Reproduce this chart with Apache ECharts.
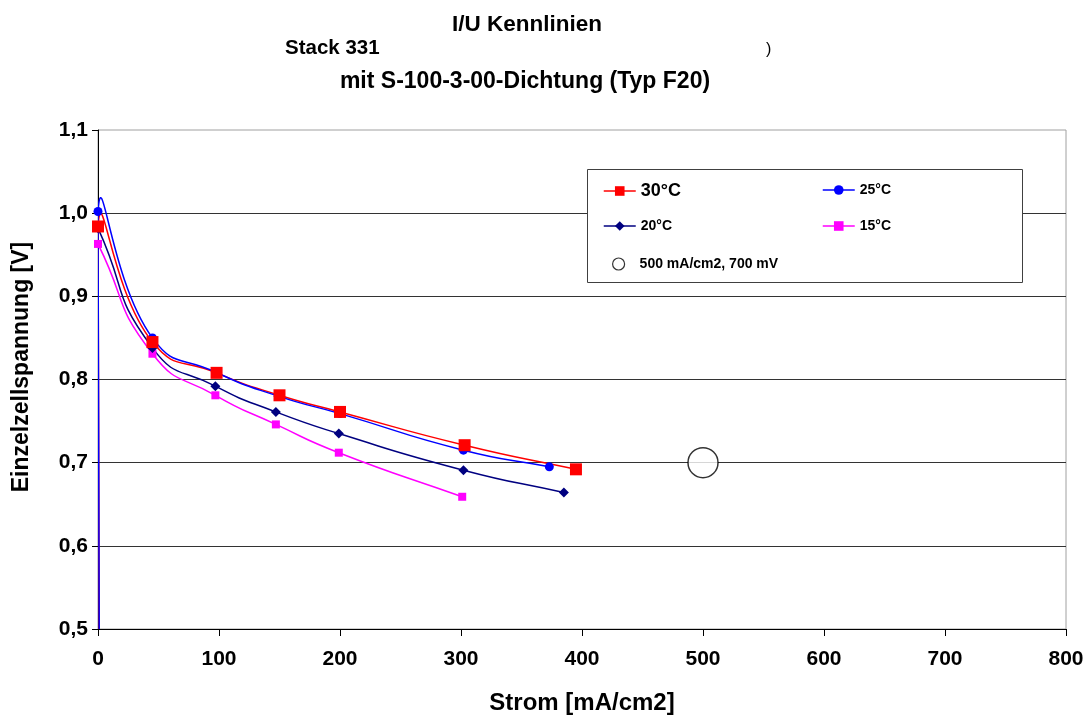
<!DOCTYPE html>
<html>
<head>
<meta charset="utf-8">
<script src="https://cdn.jsdelivr.net/npm/echarts@6/dist/echarts.min.js"></script>
<style>html,body{margin:0;padding:0;background:#fff;}#c{width:1086px;height:715px;}</style>
</head>
<body>
<div id="c"></div>
<script>
// ---- data ----
const seriesNames = ['30°C', '25°C', '20°C', '15°C'];
const xTicks = [0, 100, 200, 300, 400, 500, 600, 700, 800];
const yTicks = ['0,5', '0,6', '0,7', '0,8', '0,9', '1,0', '1,1'];
// [current mA/cm2, voltage V]; 30°C and 25°C start with an open-circuit point at ~0 V (off-scale)
const s30 = [[2, 0.0], [0, 0.984], [45, 0.845], [98, 0.808], [150, 0.781], [200, 0.761], [303, 0.721], [395, 0.692]];
const s25 = [[2, 0.0], [0, 1.002], [45, 0.850], [97, 0.809], [149, 0.780], [200, 0.759], [302, 0.715], [373, 0.695]];
const s20 = [[0, 0.982], [45, 0.838], [97, 0.792], [147, 0.761], [199, 0.735], [302, 0.691], [385, 0.664]];
const s15 = [[0, 0.963], [45, 0.831], [97, 0.781], [147, 0.746], [199, 0.712], [301, 0.659]];
const hasDrop = [true, true, false, false];
const target = [[500, 0.700]];
const targetName = '500 mA/cm2, 700 mV';

const FONT = 'Liberation Sans, Arial, sans-serif';
const chart = echarts.init(document.getElementById('c'));

const colors = ['#FF0000', '#0000FF', '#000080', '#FF00FF'];
const symbols = ['rect', 'circle', 'diamond', 'rect'];
const sizes = [12, 9, 10, 8];
const allData = [s30, s25, s20, s15];
const SMOOTH = 0.55;

// spline path (Excel-like smoothed line) through the points, using the chart's own coordinate mapping
function splineRender(data, color, drop) {
  return function (params, api) {
    if (params.dataIndex !== 0) return null;
    const P = data.map(d => api.coord(d));
    const n = P.length;
    const dist = (a, b) => Math.hypot(a[0] - b[0], a[1] - b[1]);
    const cpF = [], cpB = [];
    for (let i = 0; i < n; i++) {
      const prev = P[i > 0 ? i - 1 : i];
      const next = P[i < n - 1 ? i + 1 : i];
      const vx = next[0] - prev[0], vy = next[1] - prev[1];
      const d0 = dist(prev, P[i]), d1 = dist(P[i], next);
      const tot = d0 + d1 || 1;
      cpF.push([P[i][0] + vx * SMOOTH * d1 / tot, P[i][1] + vy * SMOOTH * d1 / tot]);
      cpB.push([P[i][0] - vx * SMOOTH * d0 / tot, P[i][1] - vy * SMOOTH * d0 / tot]);
    }
    let path = 'M' + P[0][0] + ' ' + P[0][1];
    for (let i = 1; i < n; i++) {
      if (drop && i === 1) {
        path += ' L' + P[1][0] + ' ' + P[1][1];
      } else {
        path += ' C' + cpF[i - 1][0] + ' ' + cpF[i - 1][1] + ' ' + cpB[i][0] + ' ' + cpB[i][1] + ' ' + P[i][0] + ' ' + P[i][1];
      }
    }
    return {
      type: 'path',
      shape: { pathData: path },
      style: { fill: null, stroke: color, lineWidth: 1.5 }
    };
  };
}

const series = [];
seriesNames.forEach((n, i) => {
  series.push({
    name: n + ' ',
    type: 'custom',
    renderItem: splineRender(allData[i], colors[i], hasDrop[i]),
    data: allData[i],
    clip: true,
    silent: true,
    z: 2
  });
});
seriesNames.forEach((n, i) => {
  const d = allData[i].map((p, k) => (hasDrop[i] && k === 0) ? { value: p, symbol: 'none' } : { value: p });
  series.push({
    name: n,
    type: 'line',
    data: d,
    symbol: symbols[i],
    symbolSize: sizes[i],
    showAllSymbol: true,
    lineStyle: { color: colors[i], width: 1.5, opacity: 0 },
    itemStyle: { color: colors[i] },
    z: 6 - i,
    clip: true
  });
});
series.push({
  name: targetName,
  type: 'scatter',
  data: target,
  symbol: 'circle',
  symbolSize: 30,
  itemStyle: { color: '#fff', borderColor: '#000', borderWidth: 1.5 },
  z: 7
});

const legendPos = [
  { left: 603, top: 182, fs: 18 },
  { left: 822, top: 183, fs: 14 },
  { left: 603, top: 219, fs: 14 },
  { left: 822, top: 219, fs: 14 }
];
const legends = seriesNames.map((n, i) => ({
  data: [n],
  left: legendPos[i].left,
  top: legendPos[i].top,
  padding: 0,
  itemWidth: 32,
  itemHeight: 12,
  itemGap: 0,
  selectedMode: false,
  z: 20,
  lineStyle: { opacity: 1, width: 1.5 },
  textStyle: { fontFamily: FONT, fontWeight: 'bold', fontSize: legendPos[i].fs, color: '#000' }
}));
legends.push({
  data: [targetName],
  left: 612,
  top: 257,
  padding: 0,
  itemWidth: 12,
  itemHeight: 12,
  selectedMode: false,
  z: 20,
  itemStyle: { color: '#fff', borderColor: '#000', borderWidth: 1.2 },
  textStyle: { fontFamily: FONT, fontWeight: 'bold', fontSize: 14, color: '#000', padding: [0, 0, 0, 10] }
});

chart.setOption({
  animation: false,
  backgroundColor: '#fff',
  title: [
    { text: 'I/U Kennlinien', left: 527, top: 13, textAlign: 'center', padding: 0,
      textStyle: { fontFamily: FONT, fontWeight: 'bold', fontSize: 22.5, color: '#000' } },
    { text: 'Stack 331', left: 285, top: 38, padding: 0,
      textStyle: { fontFamily: FONT, fontWeight: 'bold', fontSize: 20.5, color: '#000' } },
    { text: ')', left: 766, top: 42, padding: 0,
      textStyle: { fontFamily: FONT, fontWeight: 'normal', fontSize: 16, color: '#000' } },
    { text: 'mit S-100-3-00-Dichtung (Typ F20)', left: 525, top: 70, textAlign: 'center', padding: 0,
      textStyle: { fontFamily: FONT, fontWeight: 'bold', fontSize: 23, color: '#000' } }
  ],
  grid: { left: 98, right: 20, top: 130, bottom: 86, show: true, borderColor: '#a0a0a0', borderWidth: 1,
    backgroundColor: 'transparent', outerBoundsMode: 'none', containLabel: false },
  legend: legends,
  xAxis: {
    type: 'value', min: 0, max: 800, interval: 100,
    name: 'Strom [mA/cm2]', nameLocation: 'middle', nameGap: 62,
    nameTextStyle: { fontFamily: FONT, fontWeight: 'bold', fontSize: 24, color: '#000' },
    axisLine: { show: true, lineStyle: { color: '#000', width: 1 } },
    axisTick: { show: true, length: 7, lineStyle: { color: '#000' } },
    axisLabel: { margin: 20, fontFamily: FONT, fontWeight: 'bold', fontSize: 21, color: '#000',
      formatter: v => xTicks.includes(v) ? String(v) : '' },
    splitLine: { show: false }
  },
  yAxis: {
    type: 'value', min: 0.5, max: 1.1, interval: 0.1,
    axisLine: { show: true, lineStyle: { color: '#000', width: 1 } },
    axisTick: { show: true, length: 6, lineStyle: { color: '#000' } },
    axisLabel: { margin: 10, fontFamily: FONT, fontWeight: 'bold', fontSize: 21, color: '#000',
      formatter: v => yTicks[Math.round((v - 0.5) * 10)] },
    splitLine: { show: true, showMaxLine: false, lineStyle: { color: '#333', width: 1 } }
  },
  graphic: [
    { type: 'rect', shape: { x: 587.5, y: 169.5, width: 435, height: 113 },
      style: { fill: '#fff', stroke: '#404040', lineWidth: 1 }, z: 10 },
    { type: 'text', x: 22, y: 367, rotation: Math.PI / 2,
      style: { text: 'Einzelzellspannung [V]', fill: '#000', font: 'bold 23px ' + FONT, align: 'center', verticalAlign: 'middle' } }
  ],
  series: series
});
</script>
</body>
</html>
